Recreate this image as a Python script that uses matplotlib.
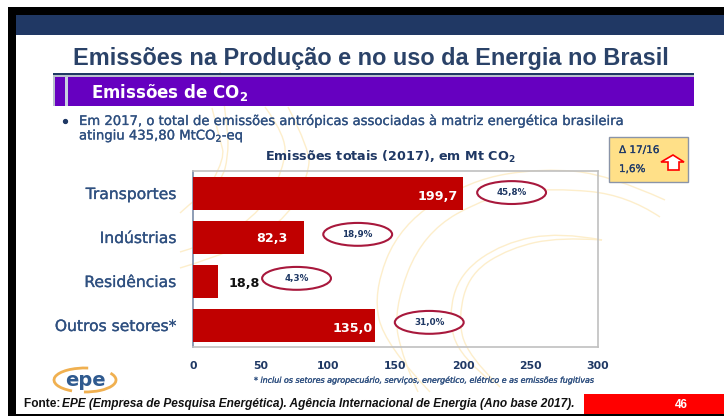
import matplotlib
matplotlib.use("Agg")
import matplotlib.pyplot as plt
import matplotlib.patheffects as pe
from matplotlib.patches import Rectangle, Ellipse, Polygon, Arc, PathPatch
from matplotlib.path import Path

W, H = 724, 416
categories = ["Transportes", "Indústrias", "Residências", "Outros setores*"]
values = [199.7, 82.3, 18.8, 135.0]
value_labels = ["199,7", "82,3", "18,8", "135,0"]
shares = ["45,8%", "18,9%", "4,3%", "31,0%"]
xticks = [0, 50, 100, 150, 200, 250, 300]

NAVY = "#1f3864"
TXT = "#2f5080"
FONT = "DejaVu Sans"
SEMI = [pe.withStroke(linewidth=0.2, foreground=TXT)]

fig = plt.figure(figsize=(W/100, H/100), dpi=100)
bg = fig.add_axes([0, 0, 1, 1])
bg.set_xlim(0, W); bg.set_ylim(H, 0); bg.axis("off")

def rect(x0, y0, x1, y1, fc, ec="none", lw=0, z=1):
    bg.add_patch(Rectangle((x0, y0), x1-x0, y1-y0, fc=fc, ec=ec, lw=lw, zorder=z))

def curve(pts):
    verts = [pts[0]]; codes = [Path.MOVETO]
    for i in range(1, len(pts)-1):
        mid = ((pts[i][0]+pts[i+1][0])/2, (pts[i][1]+pts[i+1][1])/2)
        if i == len(pts)-2:
            mid = pts[i+1]
        verts += [pts[i], mid]; codes += [Path.CURVE3, Path.CURVE3]
    bg.add_patch(PathPatch(Path(verts, codes), fc="none", ec="#fdeecb", lw=1, zorder=2))

rect(8, 7, 724, 416, "black")
rect(16, 15, 724, 414, "white")
rect(16, 15, 724, 35, "#203864")

# background arcs
decor = [
    [(430, 392), (385, 345), (373, 293), (400, 225), (470, 180), (543, 168), (610, 175), (665, 200)],
    [(418, 392), (403, 360), (393, 310), (423, 233), (490, 195), (553, 188), (627, 195), (660, 217)],
    [(493, 383), (460, 357), (448, 317), (460, 273), (503, 243), (560, 232), (602, 240)],
    [(500, 387), (467, 355), (458, 317), (470, 273), (510, 248), (560, 237), (602, 240)],
    [(220, 72), (228, 130), (228, 157), (222, 180), (200, 195), (180, 213)],
    [(212, 108), (220, 140), (225, 158), (213, 180)],
    [(265, 107), (287, 137), (283, 170), (262, 210), (220, 240), (180, 252)],
    [(288, 107), (310, 150), (308, 175), (290, 215), (240, 250), (180, 268)],
]
for pts in decor:
    curve(pts)

bg.text(371, 58, "Emissões na Produção e no uso da Energia no Brasil", ha="center", va="center",
        fontsize=16.9, fontweight="bold", family="Liberation Sans", color="#2a4268")
rect(53, 73, 694, 75, NAVY, z=3)
rect(53, 75, 694, 77, "#b8c0cc", z=3)
rect(55, 77, 694, 106, "#6600c0", z=3)
rect(53, 77, 55, 106, "#b8c0cc", z=3)
rect(65, 77, 68, 106, "#c8cfe0", z=3)
bg.text(91, 98, "Emissões de CO$_\\mathbf{2}$", ha="left", va="baseline", fontsize=12, fontweight="bold",
        family=FONT, color="white", zorder=4)

bg.plot([65], [121], "o", ms=2.8, color=NAVY)
bg.text(79, 121.5, "Em 2017, o total de emissões antrópicas associadas à matriz energética brasileira",
        ha="left", va="center", fontsize=9.5, family=FONT, color=TXT, path_effects=SEMI)
bg.text(79, 136, "atingiu 435,80 MtCO$_2$-eq", ha="left", va="center", fontsize=9.5,
        family=FONT, color=TXT, path_effects=SEMI)
bg.text(390.5, 157, "Emissões totais (2017), em Mt CO$_\\mathbf{2}$", ha="center", va="center", fontsize=9.2,
        fontweight="bold", family=FONT, color=NAVY)

# delta box
rect(609, 137, 688, 182, "#ffe088", ec="#8a94a8", lw=1, z=3)
bg.text(619, 150, "Δ 17/16", ha="left", va="center", fontsize=7.5,
        family=FONT, color=NAVY, zorder=4, path_effects=SEMI)
bg.text(619, 169, "1,6%", ha="left", va="center", fontsize=7.5,
        family=FONT, color=NAVY, zorder=4, path_effects=SEMI)
bg.add_patch(Polygon([(673, 155), (684, 162), (679, 162), (679, 170), (668, 170), (668, 162), (661, 162)],
             closed=True, fc="white", ec="#ff0000", lw=1.2, zorder=4))

# chart
ax = fig.add_axes([193/W, 1-347/H, (598-193)/W, (347-171)/H])
ax.patch.set_alpha(0)
y = list(range(len(categories)))
ax.barh(y, values, height=0.75, color="#c00000", zorder=3)
ax.set_xlim(0, 300); ax.set_ylim(3.5, -0.5)
ax.set_yticks(y, categories)
ax.set_xticks(xticks, [str(v) for v in xticks])
ax.tick_params(axis="both", length=0)
ax.tick_params(axis="y", pad=12, labelcolor=TXT, labelsize=11.2)
ax.tick_params(axis="x", pad=10, labelcolor=NAVY, labelsize=7.8)
for lab in ax.get_yticklabels():
    lab.set_family(FONT); lab.set_path_effects(SEMI)
for lab in ax.get_xticklabels():
    lab.set_family(FONT); lab.set_fontweight("bold")
for s in ["top", "right", "bottom"]:
    ax.spines[s].set_color("#c0c0c0"); ax.spines[s].set_linewidth(1.2)
ax.spines["left"].set_color("#7a8ba8"); ax.spines["left"].set_linewidth(1.2)

lab_x = [196, 70, 26, 133]
lab_dy = [0.09, 0.03, 0.05, 0.09]
lab_col = ["white", "white", "#111111", "white"]
lab_ha = ["right", "right", "left", "right"]
for i in y:
    ax.text(lab_x[i], i+lab_dy[i], value_labels[i], color=lab_col[i], ha=lab_ha[i], va="center",
            fontsize=9.2, fontweight="bold", family=FONT, zorder=5)

ell_x = [236, 122, 76.7, 175]   # centres, x data units
ell_y = [-0.01, -0.06, -0.06, -0.06]
for i in y:
    ax.add_patch(Ellipse((ell_x[i], i+ell_y[i]), 51, 0.52, fc="white", ec="#a8183c", lw=1.5, zorder=4))
    ax.text(ell_x[i], i+ell_y[i], shares[i], ha="center", va="center", fontsize=6.3, fontweight="bold",
            family=FONT, color=NAVY, zorder=5)

bg.text(254, 380, "* inclui os setores agropecuário, serviços, energético, elétrico e as emissões fugitivas",
        ha="left", va="center", fontsize=5.7, style="italic", family=FONT, color=TXT, path_effects=SEMI)

# logo
bg.add_patch(Arc((85, 380), 62, 24, theta1=140, theta2=285, color="#f0b050", lw=2))
bg.add_patch(Arc((85, 380), 62, 24, theta1=-15, theta2=95, color="#f0b050", lw=2))
bg.text(85, 381, "epe", ha="center", va="center", fontsize=14, fontweight="bold",
        family=FONT, color="#2f5a8f", zorder=3)

bg.text(24, 407, "Fonte: ", ha="left", va="baseline", fontsize=8.6, fontweight="bold",
        family="Liberation Sans", color="#111111")
bg.text(62, 407, "EPE (Empresa de Pesquisa Energética). Agência Internacional de Energia (Ano base 2017).",
        ha="left", va="baseline", fontsize=8.6, fontweight="bold", style="italic",
        family="Liberation Sans", color="#111111")
rect(584, 394, 724, 414, "#ff0000", z=3)
bg.text(681, 405, "46", ha="center", va="center", fontsize=8.5, fontweight="bold",
        family="Liberation Sans", color="white", zorder=4)

fig.savefig("out.png", dpi=100)
